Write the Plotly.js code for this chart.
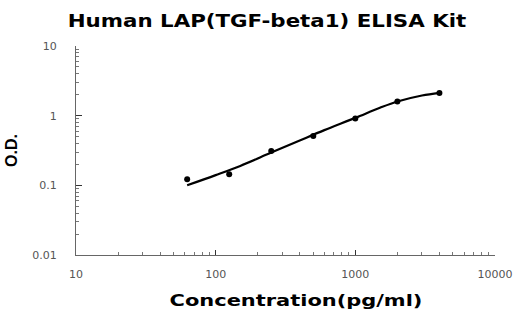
<!DOCTYPE html>
<html>
<head>
<meta charset="utf-8">
<script src="https://cdn.plot.ly/plotly-3.0.1.min.js"></script>
<style>html,body{margin:0;padding:0;background:#fff;}#chart{width:519px;height:312px;}</style>
</head>
<body>
<div id="chart"></div>
<script>
// Measured standards
const concentration = [62.5, 125, 250, 500, 1000, 2000, 4000];
const odValues = [0.122, 0.144, 0.31, 0.51, 0.91, 1.6, 2.11];
// Fitted standard curve
const curveX = [62.5, 100, 150, 250, 400, 600, 1000, 1500, 2000, 3000, 4000];
const curveY = [0.100, 0.14, 0.19, 0.295, 0.44, 0.62, 0.93, 1.30, 1.60, 1.95, 2.13];
const xTickVals = [10, 100, 1000, 10000];
const xTickText = ['10', '100', '1000', '10000'];
const yTickVals = [0.01, 0.1, 1, 10];
const yTickText = ['0.01', '0.1', '1', '10'];

const traces = [
  {x: curveX, y: curveY, mode: 'lines', line: {color: '#000', width: 2.2, shape: 'spline'}, hoverinfo: 'none'},
  {x: concentration, y: odValues, mode: 'markers', marker: {color: '#000', size: 6}}
];
const tickFont = {family: 'DejaVu Sans', size: 11, color: '#555'};
const layout = {
  width: 519, height: 312,
  margin: {l: 76, r: 24, t: 46, b: 57},
  paper_bgcolor: '#fff', plot_bgcolor: '#fff',
  showlegend: false,
  title: {text: '<b>Human LAP(TGF-beta1) ELISA Kit</b>', font: {family: 'DejaVu Sans', size: 18, color: '#000'}, x: 0.4913, xanchor: 'center', y: 0.935, yanchor: 'middle'},
  xaxis: {
    type: 'log', range: [1, 4],
    tickvals: xTickVals, ticktext: xTickText,
    ticks: 'inside', ticklen: 5, tickcolor: '#333', tickwidth: 1,
    minor: {ticks: 'inside', ticklen: 3, tickcolor: '#777', tickvals: [20,30,40,50,60,70,80,90,200,300,400,500,600,700,800,900,2000,3000,4000,5000,6000,7000,8000,9000]},
    showline: true, linecolor: '#666', linewidth: 1,
    showgrid: false, zeroline: false,
    tickfont: tickFont, ticklabelstandoff: 9,
    title: {text: '<b>Concentration(pg/ml)</b>', font: {family: 'DejaVu Sans', size: 16, color: '#000'}, standoff: 14}
  },
  yaxis: {
    type: 'log', range: [-2, 1],
    tickvals: yTickVals, ticktext: yTickText,
    ticks: 'inside', ticklen: 6, tickcolor: '#333', tickwidth: 1,
    minor: {ticks: 'inside', ticklen: 3, tickcolor: '#777', tickvals: [0.02,0.03,0.04,0.05,0.06,0.07,0.08,0.09,0.2,0.3,0.4,0.5,0.6,0.7,0.8,0.9,2,3,4,5,6,7,8,9]},
    showline: true, linecolor: '#666', linewidth: 1,
    showgrid: false, zeroline: false,
    tickfont: tickFont, ticklabelstandoff: 16,
    title: {text: '<b>O.D.</b>', font: {family: 'Liberation Sans', size: 16, color: '#000'}, standoff: 10}
  }
};
Plotly.newPlot('chart', traces, layout, {displayModeBar: false, staticPlot: true}).then(function (gd) {
  // The reference text is drawn horizontally stretched; widen the titles to match.
  const stretch = function (sel, scale, dx) {
    const el = gd.querySelector(sel);
    if (!el) return;
    const cx = parseFloat(el.getAttribute('x')) || 0;
    el.setAttribute('transform', 'translate(' + (cx + dx) + ',0) scale(' + scale + ',1) translate(' + (-cx) + ',0)');
  };
  stretch('.gtitle', 1.186, 12);
  stretch('.xtitle', 1.31, 10.5);
});
</script>
</body>
</html>
